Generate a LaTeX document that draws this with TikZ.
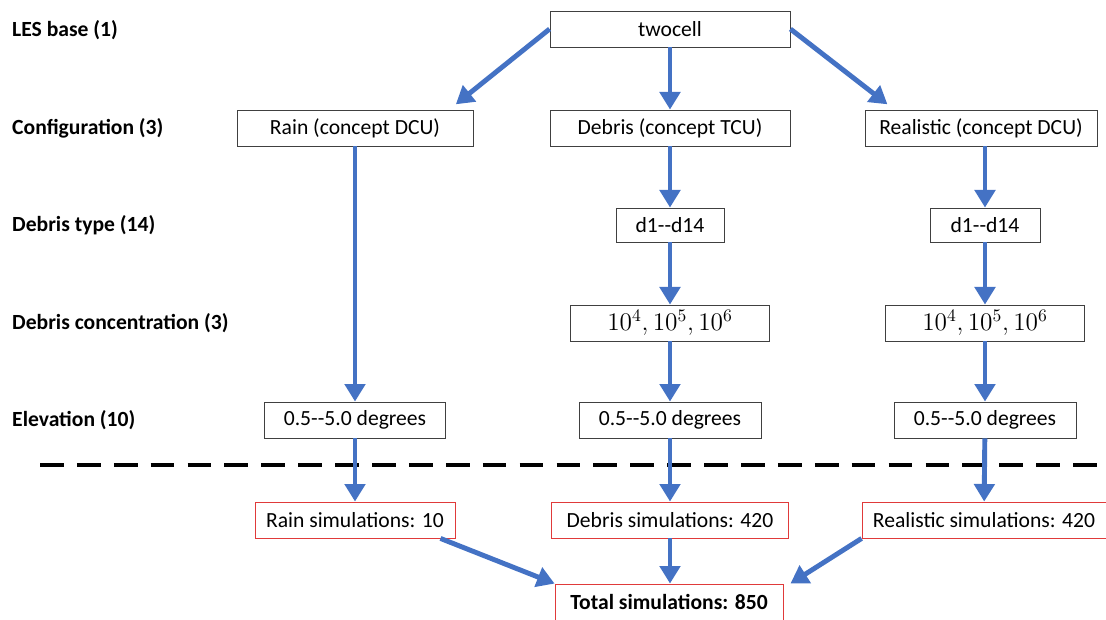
\documentclass[tikz,border=0pt]{standalone}
\usepackage{fontspec}
\setmainfont{Carlito}
\usepackage{xcolor}
\usetikzlibrary{arrows.meta}
\definecolor{flowblue}{HTML}{4472C4}
\definecolor{simred}{HTML}{E03A3A}

\begin{document}
\begin{tikzpicture}[
		x=0.02cm, y=-0.02cm,
		font=\fontsize{12.3}{14.5}\selectfont,
		stage/.style={
			rectangle, draw=black!75, line width=0.5pt, fill=white,
			minimum height=0.72cm, inner sep=2pt, align=center
		},
		simbox/.style={
			stage, draw=simred
		},
		level/.style={anchor=west, font=\fontsize{12.3}{14.5}\selectfont\bfseries},
		flow/.style={-{Triangle[length=10pt,width=11.5pt]}, line width=2.8pt, flowblue},
		divider/.style={line width=2.8pt, dash pattern=on 13.5pt off 7.5pt}
		]
		\useasboundingbox (0,0) rectangle (1106,619);
		% level labels
		\node[level] (lbase)  at (6, 30)  {LES base (1)};
		\node[level] (lconf)  at (6, 128) {Configuration (3)};
		\node[level] (ltype)  at (6, 225) {Debris type (14)};
		\node[level] (lconc)  at (6, 323) {Debris concentration (3)};
		\node[level] (lelev)  at (6, 420) {Elevation (10)};
		
		\node[stage, minimum width=4.8cm] (base) at (670, 29) {twocell};
		
		\node[stage, minimum width=4.72cm] (rain)   at (355, 128) {Rain (concept DCU)};
		\node[stage, minimum width=4.8cm]  (debris) at (670, 128) {Debris (concept TCU)};
		\node[stage, minimum width=4.64cm] (real)   at (981, 128) {Realistic (concept DCU)};
		
		\node[stage, minimum width=2.16cm, minimum height=0.68cm] (dtype)  at (670, 225) {d1-{}-d14};
		\node[stage, minimum width=2.2cm, minimum height=0.68cm]  (rtype)  at (985, 225) {d1-{}-d14};
		
		\node[stage, minimum width=3.98cm] (dconc) at (670, 323) {\fontsize{14.5}{16}\selectfont$10^4, 10^5, 10^6$};
		\node[stage, minimum width=3.98cm] (rconc) at (985, 323) {\fontsize{14.5}{16}\selectfont$10^4, 10^5, 10^6$};
		
		\node[stage, minimum width=3.62cm] (relev) at (355, 420) {0.5-{}-5.0 degrees};
		\node[stage, minimum width=3.64cm] (delev) at (670, 420) {0.5-{}-5.0 degrees};
		\node[stage, minimum width=3.64cm] (eelev) at (985, 420) {0.5-{}-5.0 degrees};
		
		% separator between sweep and totals
		\coordinate (cutl) at (40, 465);
		\coordinate (cutr) at (1106, 465);
		\draw[divider] (cutl) -- (cutr);
		
		\node[simbox, minimum width=4.0cm]  (rsim) at (355, 520) {Rain simulations: 10};
		\node[simbox, minimum width=4.74cm] (dsim) at (670, 520) {Debris simulations: 420};
		\node[simbox, minimum width=4.88cm] (esim) at (984, 520) {Realistic simulations: 420};
		
		\node[simbox, minimum width=4.56cm] (total) at (669, 602) {\textbf{Total simulations: 850}};
		
		\draw[flow] (base.west) -- ([xshift=-10pt,yshift=3pt]rain.north east);
		\draw[flow] (base.south) -- (debris.north);
		\draw[flow] (base.east) -- ([xshift=13pt,yshift=3pt]real.north west);
		\draw[flow] (rain.south) -- (relev.north);
		\draw[flow] (rtype |- real.south) -- (rtype.north);
		\foreach \a/\b in {debris/dtype, dtype/dconc, dconc/delev, delev/dsim,
			rtype/rconc, rconc/eelev, eelev/esim, relev/rsim}
		\draw[flow] (\a) -- (\b);
		\draw[flow] (dsim.south) -- (dsim.south |- total.north);
		\draw[flow] ([xshift=-8.5pt]rsim.south east) -- (total.north west);
		\draw[flow] (esim.south west) -- ([xshift=4pt]total.north east);
\end{tikzpicture}
\end{document}
